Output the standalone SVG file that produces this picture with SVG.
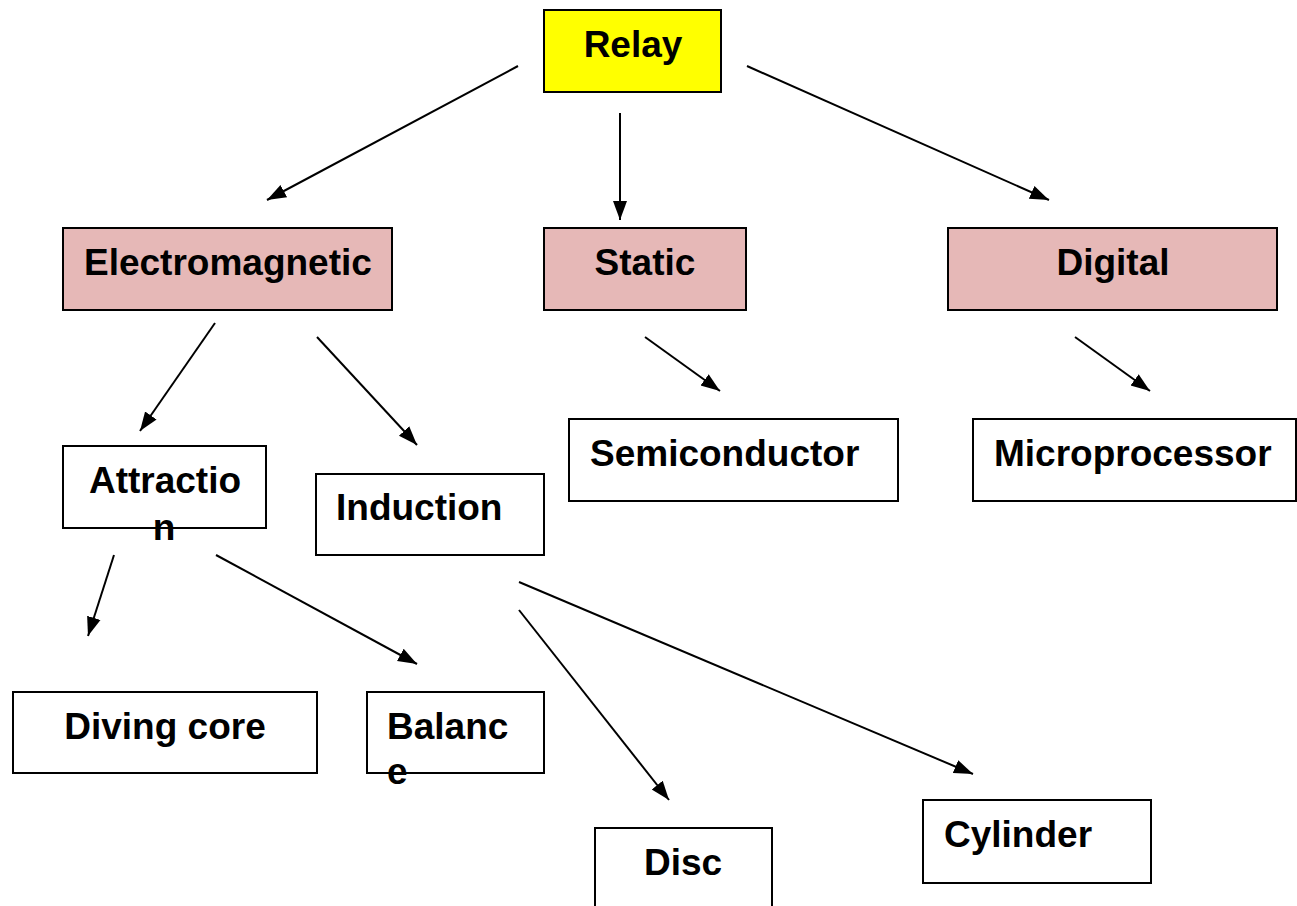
<svg xmlns="http://www.w3.org/2000/svg" width="1297" height="906" viewBox="0 0 1297 906">
<style>
.box{fill:#ffffff;stroke:#000;stroke-width:2}
.pink{fill:#E6B8B7}
.yellow{fill:#FFFF00}
text{font-family:"Liberation Sans",Arial,sans-serif;font-weight:bold;font-size:37px;fill:#000}
.c{text-anchor:middle}
.conn line{stroke:#000;stroke-width:2;marker-end:url(#ah)}
</style>
<defs>
<marker id="ah" markerUnits="userSpaceOnUse" markerWidth="20" markerHeight="16" refX="19" refY="8" orient="auto">
<path d="M0,1 L19,8 L0,15 z" fill="#000"/>
</marker>
</defs>
<rect width="1297" height="906" fill="#fff"/>
<g id="relay"><rect class="box yellow" x="544" y="10" width="177" height="82"/><text class="c" x="633" y="57">Relay</text></g>
<g id="electromagnetic"><rect class="box pink" x="63" y="228" width="329" height="82"/><text x="84" y="275">Electromagnetic</text></g>
<g id="static"><rect class="box pink" x="544" y="228" width="202" height="82"/><text class="c" x="645" y="275">Static</text></g>
<g id="digital"><rect class="box pink" x="948" y="228" width="329" height="82"/><text class="c" x="1113" y="275">Digital</text></g>
<g id="attraction"><rect class="box" x="63" y="446" width="203" height="82"/><text class="c" x="165" y="493">Attractio</text><text class="c" x="164" y="540">n</text></g>
<g id="induction"><rect class="box" x="316" y="474" width="228" height="81"/><text x="336" y="520">Induction</text></g>
<g id="semiconductor"><rect class="box" x="569" y="419" width="329" height="82"/><text x="590" y="466">Semiconductor</text></g>
<g id="microprocessor"><rect class="box" x="973" y="419" width="323" height="82"/><text x="994" y="466">Microprocessor</text></g>
<g id="diving-core"><rect class="box" x="13" y="692" width="304" height="81"/><text class="c" x="165" y="739">Diving core</text></g>
<g id="balance"><rect class="box" x="367" y="692" width="177" height="81"/><text x="387" y="739">Balanc</text><text x="387" y="784">e</text></g>
<g id="disc"><rect class="box" x="595" y="828" width="177" height="90"/><text class="c" x="683" y="875">Disc</text></g>
<g id="cylinder"><rect class="box" x="923" y="800" width="228" height="83"/><text x="944" y="847">Cylinder</text></g>
<g id="connectors" class="conn">
<line x1="518" y1="66" x2="267" y2="200"/>
<line x1="620" y1="113" x2="620" y2="220"/>
<line x1="747" y1="66" x2="1049" y2="200"/>
<line x1="215" y1="323" x2="140" y2="431"/>
<line x1="317" y1="337" x2="417" y2="445"/>
<line x1="645" y1="337" x2="720" y2="391"/>
<line x1="1075" y1="337" x2="1150" y2="391"/>
<line x1="114" y1="555" x2="88" y2="636"/>
<line x1="216" y1="555" x2="417" y2="664"/>
<line x1="519" y1="610" x2="669" y2="800"/>
<line x1="519" y1="582" x2="973" y2="774"/>
</g>
</svg>
